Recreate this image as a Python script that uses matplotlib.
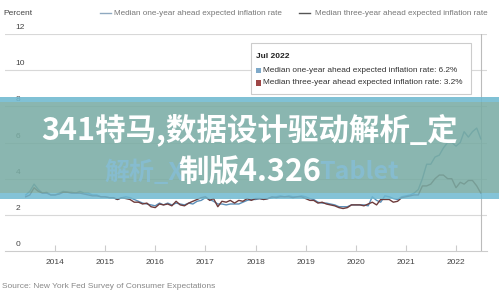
import matplotlib
matplotlib.use('Agg')
import matplotlib.pyplot as plt
from matplotlib.patches import Rectangle
import pandas as pd

plt.rcParams['font.family'] = ['Liberation Sans', 'DejaVu Sans']

# monthly survey values, Jun 2013 - Jul 2022
dates = pd.date_range('2013-06-01', '2022-07-01', freq='MS')
one_year = [
    3.1, 3.3, 3.7, 3.4, 3.2, 3.25, 3.1,
    3.1, 3.2, 3.3, 3.25, 3.25, 3.2, 3.3, 3.2, 3.2, 3.1, 3.1, 3.0,
    3.0, 2.95, 2.95, 2.85, 2.95, 3.0, 2.95, 2.85, 2.75, 2.65, 2.6, 2.55,
    2.5, 2.65, 2.55, 2.65, 2.55, 2.65, 2.6, 2.55, 2.65, 2.6, 2.75, 2.8,
    2.95, 2.85, 2.75, 2.6, 2.6, 2.55, 2.6, 2.6, 2.6, 2.7, 2.8, 2.85,
    2.85, 2.9, 2.85, 2.9, 2.95, 3.0, 3.05, 3.0, 3.05, 3.0, 3.0, 3.05,
    3.0, 2.9, 2.85, 2.7, 2.65, 2.65, 2.6, 2.55, 2.45, 2.45, 2.45, 2.55,
    2.55, 2.55, 2.55, 2.5, 3.0, 2.8, 2.7, 3.05, 3.0, 2.9, 2.85, 3.0,
    3.05, 3.1, 3.2, 3.4, 4.0, 4.8, 4.8, 5.2, 5.3, 5.7, 6.0, 6.0,
    5.8, 6.0, 6.6, 6.3, 6.6, 6.8, 6.2,
]
three_year = [
    3.0, 3.1, 3.5, 3.3, 3.2, 3.2, 3.1,
    3.1, 3.15, 3.25, 3.25, 3.2, 3.2, 3.2, 3.15, 3.1, 3.05, 3.05, 3.0,
    3.0, 2.95, 2.95, 2.85, 2.95, 2.9, 2.85, 2.7, 2.7, 2.6, 2.65, 2.45,
    2.4, 2.6, 2.55, 2.6, 2.5, 2.75, 2.55, 2.5, 2.65, 2.75, 2.85, 2.95,
    3.0, 2.8, 2.9, 2.45, 2.75, 2.7, 2.8, 2.65, 2.8, 2.75, 2.9, 2.8,
    2.9, 2.9, 2.85, 2.9, 3.0, 2.95, 3.0, 3.0, 3.0, 2.95, 3.0, 3.0,
    2.9, 2.8, 2.8, 2.65, 2.7, 2.6, 2.55, 2.5, 2.4, 2.35, 2.4, 2.55,
    2.55, 2.55, 2.5, 2.6, 2.7, 2.55, 2.85, 2.85, 2.85, 2.7, 2.75, 2.95,
    3.0, 3.05, 3.1, 3.1, 3.6, 3.6, 3.7, 4.0, 4.2, 4.2, 4.0, 4.0,
    3.5, 3.8, 3.7, 3.9, 3.9, 3.6, 3.2,
]
years = list(range(2014, 2023))
y_ticks = [0, 2, 4, 6, 8, 10, 12]

c_one = '#5b8fb8'
c_three = '#6e3b3b'
cjk = ['Noto Sans CJK SC', 'DejaVu Sans']

fig = plt.figure(figsize=(4.99, 2.96), dpi=100)
ax = fig.add_axes([0.01, 0.152, 0.966, 0.733])

ax.plot(dates, one_year, color=c_one, lw=1.0, zorder=3)
ax.plot(dates, three_year, color=c_three, lw=1.0, zorder=3)

ax.set_xlim(pd.Timestamp('2013-01-01'), pd.Timestamp('2022-08-15'))
ax.set_ylim(0, 12)
for v in y_ticks:
    if v > 0:
        ax.axhline(v, color='#d8d8d8', lw=0.8, zorder=1)
    ax.text(0.022, v + 0.36, str(v), transform=ax.get_yaxis_transform(),
            fontsize=6, color='#444444', ha='left', va='center')

for s in ['top', 'right', 'left']:
    ax.spines[s].set_visible(False)
ax.spines['bottom'].set_color('#cccccc')
ax.spines['bottom'].set_linewidth(0.8)
ax.set_yticks([])
ax.set_xticks([pd.Timestamp(f'{y}-01-01') for y in years])
ax.set_xticklabels([str(y) for y in years], fontsize=6, color='#444444')
ax.tick_params(axis='x', direction='in', length=4, color='#cccccc', pad=6)

# hover line at Jul 2022
ax.axvline(pd.Timestamp('2022-07-01'), color='#bbbbbb', lw=0.8, zorder=2)

# header
fig.text(0.006, 0.955, 'Percent', fontsize=6, color='#444444', va='center')
fig.add_artist(plt.Line2D([0.2, 0.222], [0.957, 0.957], color='#8fa9c0', lw=1))
fig.text(0.228, 0.955, 'Median one-year ahead expected inflation rate',
         fontsize=5.9, color='#777777', va='center')
fig.add_artist(plt.Line2D([0.6, 0.622], [0.957, 0.957], color='#555555', lw=1))
fig.text(0.632, 0.955, 'Median three-year ahead expected inflation rate',
         fontsize=5.9, color='#777777', va='center')

# tooltip
fig.patches.append(Rectangle((0.503, 0.682), 0.44, 0.172, transform=fig.transFigure,
                             facecolor='white', edgecolor='#cccccc', lw=0.8, zorder=5))
fig.text(0.513, 0.81, 'Jul 2022', fontsize=6, fontweight='bold', color='#222222',
         va='center', zorder=6)
fig.patches.append(Rectangle((0.513, 0.753), 0.01, 0.018, transform=fig.transFigure,
                             facecolor='#7ea9c9', edgecolor='none', zorder=6))
fig.text(0.527, 0.762, 'Median one-year ahead expected inflation rate: 6.2%',
         fontsize=5.95, color='#333333', va='center', zorder=6)
fig.patches.append(Rectangle((0.513, 0.711), 0.01, 0.018, transform=fig.transFigure,
                             facecolor='#9e4646', edgecolor='none', zorder=6))
fig.text(0.527, 0.72, 'Median three-year ahead expected inflation rate: 3.2%',
         fontsize=5.95, color='#333333', va='center', zorder=6)

# banner overlay: light blue edges, teal middle, chart faintly visible through it
fig.patches.append(Rectangle((0, 0.655), 1, 0.017, transform=fig.transFigure,
                             facecolor='#6fb9d0', edgecolor='none', alpha=0.88, zorder=10))
fig.patches.append(Rectangle((0, 0.328), 1, 0.02, transform=fig.transFigure,
                             facecolor='#6fb9d0', edgecolor='none', alpha=0.85, zorder=10))
fig.patches.append(Rectangle((0, 0.348), 1, 0.307, transform=fig.transFigure,
                             facecolor='#79aca4', edgecolor='none', alpha=0.87, zorder=11))
fig.text(0.29, 0.418, '解析_X', fontsize=18, fontweight='bold', color='#86bccf',
         family=cjk, ha='center', va='center', zorder=12)
fig.text(0.72, 0.418, 'Tablet', fontsize=18, fontweight='bold', color='#86bccf',
         family=cjk, ha='center', va='center', zorder=12)
fig.text(0.5, 0.56, '341特马,数据设计驱动解析_定', fontsize=22, fontweight='bold',
         color='white', family=cjk, ha='center', va='center', zorder=13)
fig.text(0.5, 0.418, '制版4.326', fontsize=22, fontweight='bold',
         color='white', family=cjk, ha='center', va='center', zorder=13)

fig.text(0.004, 0.02, 'Source: New York Fed Survey of Consumer Expectations',
         fontsize=6, color='#888888', va='bottom')

fig.savefig('out.png', dpi=100)
